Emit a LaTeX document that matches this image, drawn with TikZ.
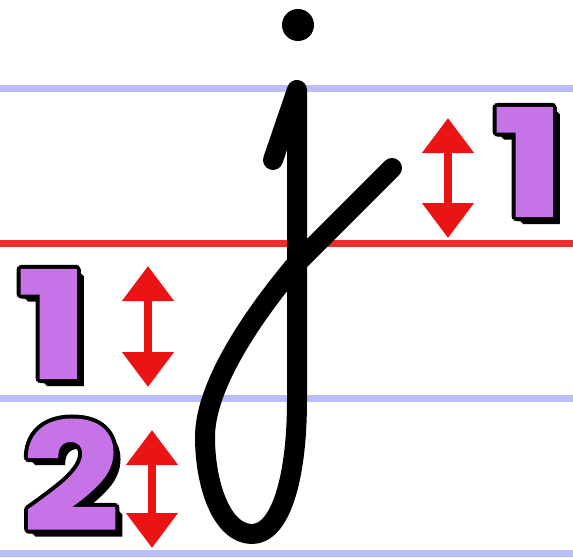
\documentclass[tikz,border=0pt]{standalone}
\usepackage{fontspec}
\usepackage{graphicx}
\setmainfont{Poppins}[BoldFeatures={FakeBold=1.5}]
\usetikzlibrary{arrows.meta}
\definecolor{ruleblue}{RGB}{185,190,250}
\definecolor{rulered}{RGB}{235,45,45}
\definecolor{arrowred}{RGB}{235,20,20}
\definecolor{numpurple}{RGB}{198,115,232}

\begin{document}
\begin{tikzpicture}[x=1pt,y=-1pt,
  guide/.style={ruleblue,line width=7pt},
  baseline rule/.style={rulered,line width=7pt},
  letter/.style={line width=20pt,line cap=round,line join=round},
  updown/.style={arrowred,line width=8pt,
    {Triangle[width=50pt,length=35pt]}-{Triangle[width=50pt,length=35pt]}},
  numtxt/.style={font=\fontsize{148}{148}\selectfont\bfseries,
    inner sep=0pt,anchor=base}]
  \useasboundingbox (0,0) rectangle (573,557);
  % ruling
  \draw[guide] (0,88)--(573,88);
  \draw[baseline rule] (0,243)--(573,243);
  \draw[guide] (0,398)--(573,398);
  \draw[guide] (0,553)--(573,553);
  % the letter j
  \fill (298,25) circle (16pt);
  \draw[letter] (273,160) -- (297,90) -- (297,400)
    .. controls (297,480) and (280,534) .. (252,534)
    .. controls (222,534) and (205,485) .. (205,437)
    .. controls (205,390) and (245,325) .. (297,263)
    .. controls (330,230) and (360,200) .. (392,168);
  % height arrows
  \coordinate (rtop) at (448,118);
  \coordinate (rbot) at (448,238);
  \coordinate (ltop) at (148,266);
  \coordinate (lbot) at (148,387);
  \coordinate (dtop) at (152,430);
  \coordinate (dbot) at (152,548);
  \draw[updown] (rtop) -- (rbot);
  \draw[updown] (ltop) -- (lbot);
  \draw[updown] (dtop) -- (dbot);
  % numbers
  \foreach \n/\x/\y/\d/\w in {numR/529/216/1/1.3, numL/53/378/1/1.3, numD/71/530/2/1.14} {
    \foreach \s in {1,...,7}
      \node[numtxt,black] (\n sh\s) at ([shift={(\s,\s)}]\x,\y) {\scalebox{\w}[1]{\d}};
    \foreach \a in {0,30,...,330}
      \node[numtxt,black] (\n ol\a) at ([shift={(\a:4)}]\x,\y) {\scalebox{\w}[1]{\d}};
    \node[numtxt,numpurple] (\n) at (\x,\y) {\scalebox{\w}[1]{\d}};
  }
\end{tikzpicture}
\end{document}
